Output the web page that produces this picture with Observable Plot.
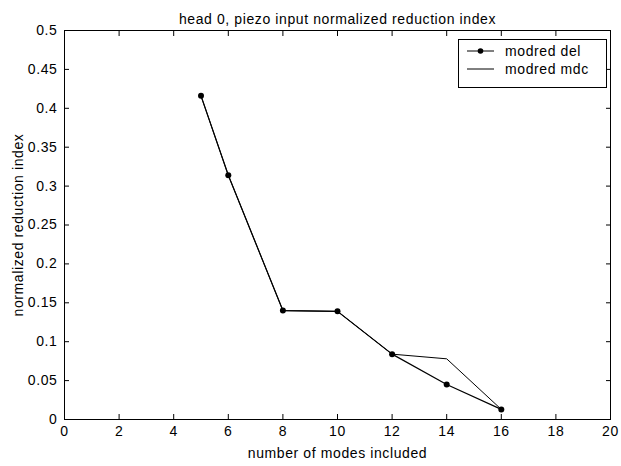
<!DOCTYPE html>
<html>
<head>
<meta charset="utf-8">
<script src="https://cdn.jsdelivr.net/npm/d3@7"></script>
<script src="https://cdn.jsdelivr.net/npm/@observablehq/plot@0.6"></script>
<style>
  body { margin: 0; background: #fff; }
  #wrap { position: relative; width: 621px; height: 466px; font-family: "Liberation Sans", Arial, sans-serif; }
  #wrap svg text { letter-spacing: 0.6px; }
  #legend { position: absolute; left: 458px; top: 39px; width: 149px; height: 49px; border: 1px solid #000; background: #fff; box-sizing: border-box; font-size: 14px; letter-spacing: 0.6px; }
  .row { position: absolute; left: 0; height: 18px; display: flex; align-items: center; }
  .row svg { margin-left: 8px; }
  .row span { margin-left: 11px; color: #000; }
</style>
</head>
<body>
<div id="wrap"></div>
<script>
const modes = [5, 6, 8, 10, 12, 14, 16];
const modredDel = [0.416, 0.314, 0.140, 0.139, 0.084, 0.045, 0.013];
const modredMdc = [0.416, 0.314, 0.140, 0.139, 0.084, 0.078, 0.013];
const xTicks = [0, 2, 4, 6, 8, 10, 12, 14, 16, 18, 20];
const yTicks = [0, 0.05, 0.1, 0.15, 0.2, 0.25, 0.3, 0.35, 0.4, 0.45, 0.5];
const seriesNames = ["modred del", "modred mdc"];

const del = modes.map((m, i) => ({x: m, y: modredDel[i]}));
const mdc = modes.map((m, i) => ({x: m, y: modredMdc[i]}));

const chart = Plot.plot({
  width: 621,
  height: 466,
  marginLeft: 64,
  marginRight: 11,
  marginTop: 30,
  marginBottom: 47,
  style: {fontFamily: '"Liberation Sans", Arial, sans-serif', fontSize: "14px", color: "#000", background: "#fff"},
  x: {domain: [0, 20]},
  y: {domain: [0, 0.5]},
  marks: [
    Plot.frame({stroke: "#000", strokeWidth: 1}),
    Plot.axisX({anchor: "bottom", ticks: xTicks, tickSize: -5, tickPadding: 12, tickFormat: d => String(d), label: null, stroke: "#000", fill: "#000", fontSize: 14}),
    Plot.axisX({anchor: "top", ticks: xTicks, tickSize: -5, tickFormat: () => "", label: null, stroke: "#000"}),
    Plot.axisY({anchor: "left", ticks: yTicks, tickSize: -5, tickPadding: 12, tickFormat: d => String(+d.toFixed(2)), label: null, stroke: "#000", fill: "#000", fontSize: 14}),
    Plot.axisY({anchor: "right", ticks: yTicks, tickSize: -5, tickFormat: () => "", label: null, stroke: "#000"}),
    Plot.line(mdc, {x: "x", y: "y", stroke: "#000", strokeWidth: 1}),
    Plot.line(del, {x: "x", y: "y", stroke: "#000", strokeWidth: 1.2}),
    Plot.dot(del, {x: "x", y: "y", r: 3, fill: "#000", stroke: "none"}),
    Plot.text(["head 0, piezo input normalized reduction index"], {frameAnchor: "top", dy: -16, fontSize: 14, fill: "#000"}),
    Plot.text(["number of modes included"], {frameAnchor: "bottom", dy: 38, fontSize: 14, fill: "#000"}),
    Plot.text(["normalized reduction index"], {frameAnchor: "left", dx: -46, rotate: -90, textAnchor: "middle", fontSize: 14, fill: "#000"})
  ]
});
const wrap = document.getElementById("wrap");
wrap.appendChild(chart);

const legend = document.createElement("div");
legend.id = "legend";
seriesNames.forEach((name, i) => {
  const row = document.createElement("div");
  row.className = "row";
  row.style.top = (2 + i * 18) + "px";
  const withDot = i === 0;
  row.innerHTML = `<svg width="27" height="10"><line x1="0" y1="5" x2="27" y2="5" stroke="#000" stroke-width="1"/>${withDot ? '<circle cx="13.5" cy="5" r="2.8" fill="#000"/>' : ''}</svg><span>${name}</span>`;
  legend.appendChild(row);
});
wrap.appendChild(legend);
</script>
</body>
</html>
